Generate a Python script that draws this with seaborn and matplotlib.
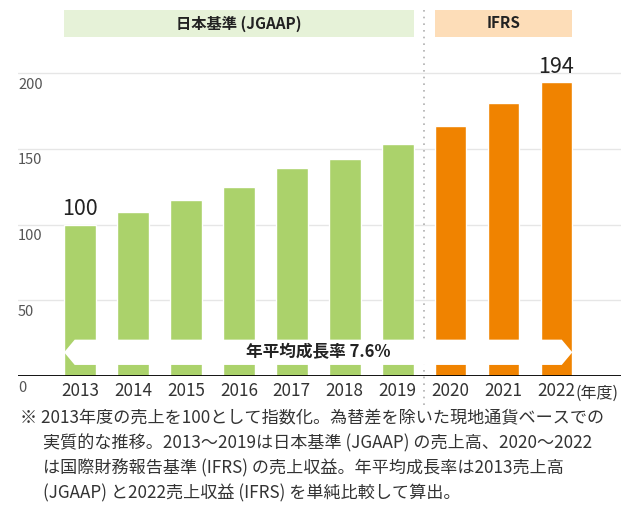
import matplotlib
matplotlib.use("Agg")
import matplotlib.pyplot as plt
import seaborn as sns
import pandas as pd
from matplotlib.patches import Polygon, Rectangle

years = ["2013", "2014", "2015", "2016", "2017", "2018", "2019", "2020", "2021", "2022"]
values = [100, 108.5, 116.5, 125, 137, 143.5, 153, 165, 180, 194]
standards = ["JGAAP"] * 7 + ["IFRS"] * 3
yticks = [0, 50, 100, 150, 200]
labelled = {"2013": "100", "2022": "194"}
header_jgaap = "日本基準 (JGAAP)"
header_ifrs = "IFRS"
cagr_text = "年平均成長率 7.6%"
unit_text = "(年度)"
footnote = [
    "※ 2013年度の売上を100として指数化。為替差を除いた現地通貨ベースでの",
    "実質的な推移。2013～2019は日本基準 (JGAAP) の売上高、2020～2022",
    "は国際財務報告基準 (IFRS) の売上収益。年平均成長率は2013売上高",
    "(JGAAP) と2022売上収益 (IFRS) を単純比較して算出。",
]

GREEN = "#abd26b"
ORANGE = "#f08300"

sns.set_style("white")
plt.rcParams["font.family"] = ["Noto Sans CJK JP", "DejaVu Sans"]

df = pd.DataFrame({"year": years, "value": values, "std": standards})

fig = plt.figure(figsize=(6.21, 5.14), dpi=100)
ax = fig.add_axes([18 / 621, (514 - 376) / 514, 603 / 621, 376 / 514])

sns.barplot(data=df, x="year", y="value", hue="std",
            palette={"JGAAP": GREEN, "IFRS": ORANGE}, saturation=1,
            width=0.6, dodge=False, legend=False, ax=ax, zorder=2)

ax.set_xlim(-1.171, 10.219)
ax.set_ylim(0, 248.2)
for s in ax.spines.values():
    s.set_visible(False)
ax.set_xlabel("")
ax.set_ylabel("")
ax.set_yticks([])

# grid lines and baseline
for v in yticks:
    if v == 0:
        ax.axhline(0, color="black", lw=1.3, zorder=4)
    else:
        ax.axhline(v, color="#e6e6e6", lw=1, zorder=1)
    ax.text(0.0, v - 3, str(v), transform=ax.get_yaxis_transform(),
            ha="left", va="top", fontsize=10.5, color="#555555")

ax.tick_params(axis="x", length=0, pad=4, labelsize=12.3, labelcolor="#333333")

# value labels
for i, y in enumerate(years):
    if y in labelled:
        ax.text(i, values[i] + 3, labelled[y], ha="center", va="bottom",
                fontsize=15.5, color="#222222")

ax.text(9.36, -11.3, unit_text, ha="left", va="center", fontsize=11.5,
        color="#333333", clip_on=False)

# header boxes
hy0, hy1 = 223.8, 241.6
ax.add_patch(Rectangle((-0.3, hy0), 6.6, hy1 - hy0, facecolor="#e6f2d8",
                       edgecolor="none", clip_on=False, zorder=1))
ax.add_patch(Rectangle((6.7, hy0), 2.6, hy1 - hy0, facecolor="#fdddb8",
                       edgecolor="none", clip_on=False, zorder=1))
ax.text(3.0, (hy0 + hy1) / 2, header_jgaap, ha="center", va="center",
        fontsize=11, fontweight="bold", color="#222222")
ax.text(8.0, (hy0 + hy1) / 2, header_ifrs, ha="center", va="center",
        fontsize=11, fontweight="bold", color="#222222")

# divider
ax.plot([6.5, 6.5], [-19, 245], color="#b0b0b0", lw=1.2, ls=(0, (1, 3)),
        clip_on=False, zorder=3)

# CAGR arrow band
by0, by1 = 7.3, 24.0
bm = (by0 + by1) / 2
hw = 0.2
band = Polygon([(-0.3, bm), (-0.3 + hw, by1), (9.3 - hw, by1), (9.3, bm),
                (9.3 - hw, by0), (-0.3 + hw, by0)], closed=True,
               facecolor="white", edgecolor="none", zorder=5)
ax.add_patch(band)
ax.text(4.5, bm, cagr_text, ha="center", va="center", fontsize=12,
        fontweight="bold", color="#222222", zorder=6)

# footnote
ys = [418, 443, 468, 493]
for k, line in enumerate(footnote):
    x = 20 if k == 0 else 43
    fig.text(x / 621, 1 - ys[k] / 514, line, ha="left", va="center",
             fontsize=12.3, color="#333333")

fig.savefig("out.png", dpi=100)
